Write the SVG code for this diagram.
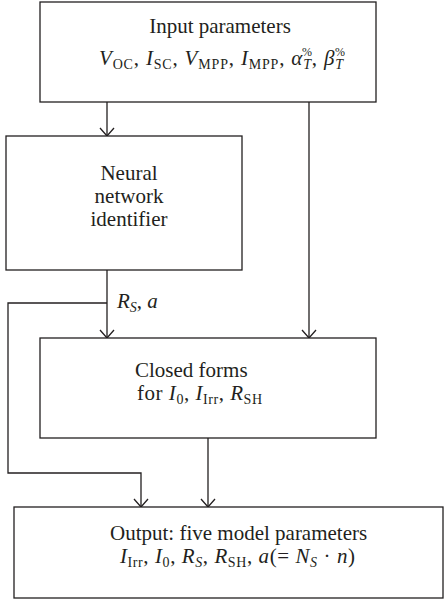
<svg xmlns="http://www.w3.org/2000/svg" width="445" height="610" viewBox="0 0 445 610">
<style>
.box{fill:#fff;stroke:#231f20;stroke-width:1.3}
.ln{fill:none;stroke:#231f20;stroke-width:1.3}
text{font-family:"Liberation Serif","Times New Roman",serif;font-size:21px;fill:#231f20}
.i{font-style:italic}
.s{font-size:14px;font-style:normal}
.si{font-size:14px;font-style:italic}
.sup{font-size:12px}
</style>
<defs>
<marker id="ah" viewBox="-9 -8 10 16" refX="0" refY="0" markerWidth="10" markerHeight="16" markerUnits="userSpaceOnUse" orient="auto">
<path d="M-8,-7 L0,0 L-8,7" fill="none" stroke="#231f20" stroke-width="1.3"/>
</marker>
</defs>
<g id="connectors">
<path class="ln" d="M107,102 V136" marker-end="url(#ah)"/>
<path class="ln" d="M107,270 V338" marker-end="url(#ah)"/>
<path class="ln" d="M107,303 H8 V473 H141 V507" marker-end="url(#ah)"/>
<path class="ln" d="M309,102 V338" marker-end="url(#ah)"/>
<path class="ln" d="M208,438 V507" marker-end="url(#ah)"/>
<text x="117" y="308"><tspan class="i">R</tspan><tspan class="si" dy="4">S</tspan><tspan dy="-4">, </tspan><tspan class="i">a</tspan></text>
</g>
<g id="input">
<rect class="box" x="40" y="2" width="336" height="100"/>
<text x="220" y="33" text-anchor="middle">Input parameters</text>
<text x="99" y="65" textLength="244" lengthAdjust="spacing"><tspan class="i">V</tspan><tspan class="s" dy="4">OC</tspan><tspan dy="-4">, </tspan><tspan class="i">I</tspan><tspan class="s" dy="4">SC</tspan><tspan dy="-4">, </tspan><tspan class="i">V</tspan><tspan class="s" dy="4">MPP</tspan><tspan dy="-4">, </tspan><tspan class="i">I</tspan><tspan class="s" dy="4">MPP</tspan><tspan dy="-4">, </tspan><tspan class="i">α</tspan><tspan class="si" dy="4">T</tspan><tspan dy="-4">, </tspan><tspan class="i">β</tspan><tspan class="si" dy="4">T</tspan></text>
<text class="sup" x="302" y="56">%</text>
<text class="sup" x="335" y="56">%</text>
</g>
<g id="nn">
<rect class="box" x="6" y="136" width="236" height="134"/>
<text x="129" y="180" text-anchor="middle">Neural</text>
<text x="129" y="203" text-anchor="middle">network</text>
<text x="129" y="226" text-anchor="middle">identifier</text>
</g>
<g id="closed">
<rect class="box" x="40" y="338" width="336" height="100"/>
<text x="135" y="377">Closed forms</text>
<text x="137" y="400" textLength="125" lengthAdjust="spacing">for <tspan class="i">I</tspan><tspan class="s" dy="4">0</tspan><tspan dy="-4">, </tspan><tspan class="i">I</tspan><tspan class="s" dy="4">Irr</tspan><tspan dy="-4">, </tspan><tspan class="i">R</tspan><tspan class="s" dy="4">SH</tspan></text>
</g>
<g id="output">
<rect class="box" x="14" y="507" width="429" height="91"/>
<text x="110" y="540">Output: five model parameters</text>
<text x="120" y="563" textLength="235" lengthAdjust="spacing"><tspan class="i">I</tspan><tspan class="s" dy="4">Irr</tspan><tspan dy="-4">, </tspan><tspan class="i">I</tspan><tspan class="s" dy="4">0</tspan><tspan dy="-4">, </tspan><tspan class="i">R</tspan><tspan class="si" dy="4">S</tspan><tspan dy="-4">, </tspan><tspan class="i">R</tspan><tspan class="s" dy="4">SH</tspan><tspan dy="-4">, </tspan><tspan class="i">a</tspan>(= <tspan class="i">N</tspan><tspan class="si" dy="4">S</tspan><tspan dy="-4"> · </tspan><tspan class="i">n</tspan>)</text>
</g>
</svg>
